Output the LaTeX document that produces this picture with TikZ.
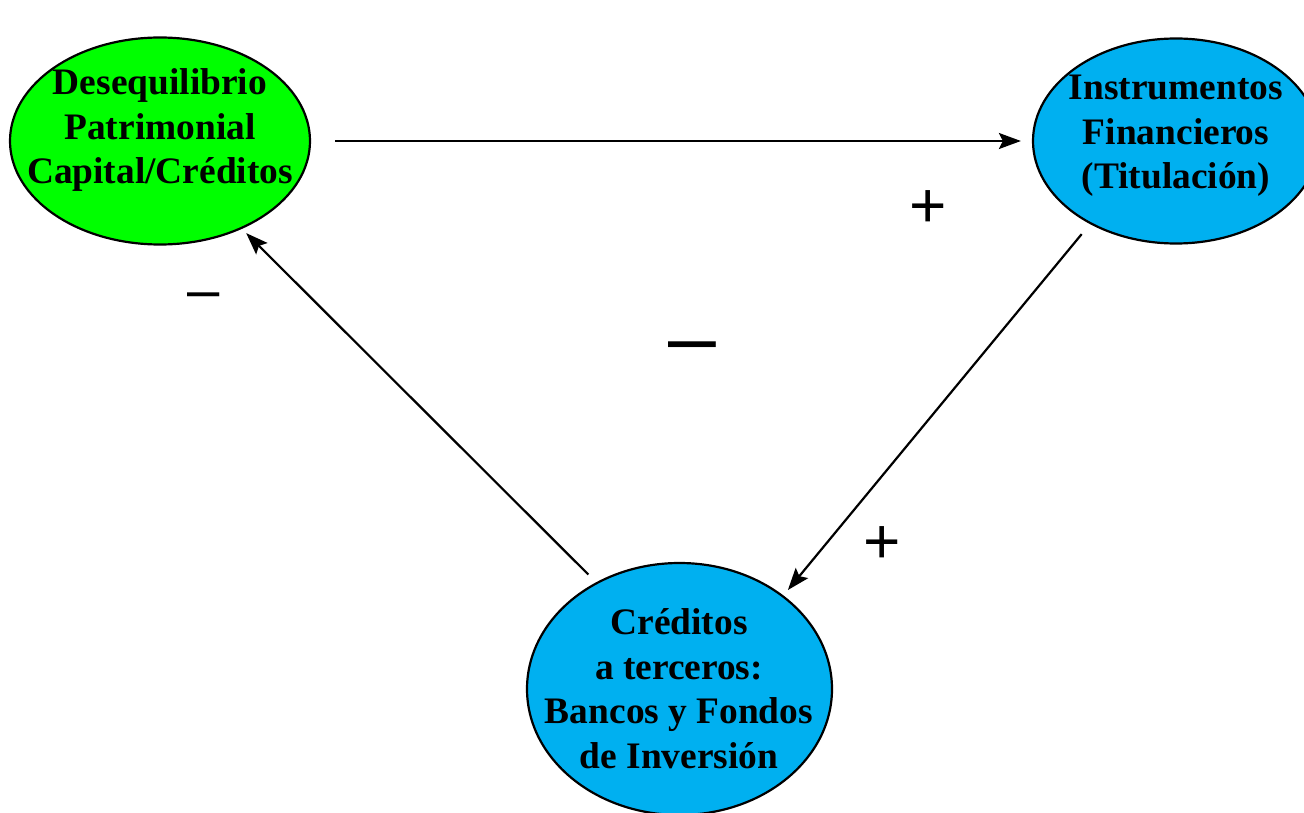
\documentclass[tikz,border=0pt]{standalone}
\usepackage{fontspec}
\setmainfont{Liberation Serif}
\newfontfamily\signfont{Liberation Sans}
\usetikzlibrary{arrows.meta,shapes.geometric}
\definecolor{nodegreen}{RGB}{0,255,0}
\definecolor{nodeblue}{RGB}{0,176,240}
\begin{document}
\begin{tikzpicture}[x=1pt,y=-1pt,
  ell/.style={ellipse, draw=black, line width=2.2pt, inner sep=0pt},
  lbl/.style={font=\fontsize{37.4}{44.5}\selectfont\bfseries, align=center, anchor=base, inner sep=0pt},
  arr/.style={-{Stealth[length=22pt,width=16pt,inset=4pt]}, line width=2.2pt},
  sign/.style={anchor=base, inner sep=0pt}]
\useasboundingbox (0,0) rectangle (1304,813);
\clip (0,0) rectangle (1304,813);
\node[ell, fill=nodegreen, minimum width=300pt, minimum height=207pt] (des) at (160,141) {};
\node[ell, fill=nodeblue, minimum width=286pt, minimum height=205pt] (ins) at (1176,141) {};
\node[ell, fill=nodeblue, minimum width=305pt, minimum height=252pt] (cre) at (679.5,689) {};
\node[lbl] (desT) at (160,184) {Desequilibrio\\Patrimonial\\Capital/Créditos};
\node[lbl] (insT) at (1176,189) {Instrumentos\\Financieros\\(Titulación)};
\node[lbl] (creT) at (679,768) {Créditos\\a terceros:\\Bancos y Fondos\\de Inversión};
\draw[arr, shorten <=24pt, shorten >=11pt] (des.0) -- (ins.180);
\draw[arr, shorten <=13pt, shorten >=7pt] (ins.224.8) -- (cre.42.9);
\draw[arr, shorten <=11pt, shorten >=6pt] (cre.128.45) -- (des.-47.1);
\node[sign, font=\signfont\fontsize{64}{64}\selectfont] (p1) at (928,227.5) {+};
\node[sign, font=\signfont\fontsize{64}{64}\selectfont] (p2) at (882,563.5) {+};
\node[sign, font=\signfont\fontsize{58}{58}\selectfont] (m1) at (204,309) {–};
\node[sign, font=\signfont\fontsize{86}{86}\selectfont] (m2) at (692,366) {–};
\end{tikzpicture}
\end{document}
